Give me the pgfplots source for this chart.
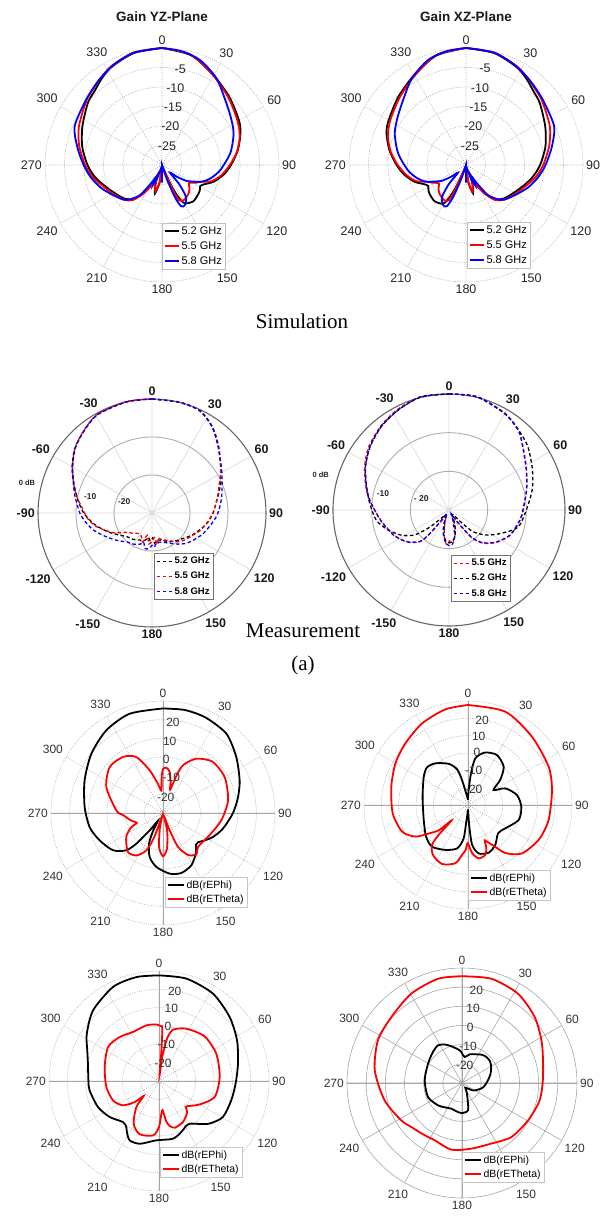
\documentclass[border=0pt]{standalone}
\usepackage{fontspec}
\setmainfont{Liberation Sans}
\newfontfamily\tnr{Liberation Serif}
\usepackage{pgfplots}
\usepackage{pgfplotstable}
\pgfplotsset{compat=1.18}
\usepgfplotslibrary{polar}

% ---------- Simulation YZ (theta clockwise from top, gain dB) ----------
\pgfplotstableread{
t g
0 0
15 -0.9
30 -3.5
45 -5.5
60 -7.2
68 -8.3
79 -10.2
90 -12.3
99 -14
108 -16.1
115 -18.2
119 -18.8
123 -18.4
128 -18.1
139 -17.7
149 -18.5
152 -19.9
155 -23
157 -27
163 -29.5
176 -29.5
180 -26
184 -29
188 -25.3
194 -22.5
199 -25
203 -27.5
207 -24.5
213 -21.5
220 -18.5
229 -17
240 -15.8
251 -14.2
260 -12.5
270 -10.9
283 -9
296 -7.3
310 -5.2
318 -4.3
325 -3
333 -1.7
346 -0.4
360 0
}\pAk
\pgfplotstableread{
t g
0 0
15 -0.8
30 -3.6
45 -5.8
60 -7.6
70 -8.8
80 -10.5
90 -12.6
100 -14.6
108 -16.6
113 -19
118 -20.3
124 -21.7
130 -20.8
137 -20
148 -19.4
154 -19.9
156 -22.5
158 -27
164 -29.5
176 -29.5
180 -27.5
184 -29.5
188 -25.5
194 -23
199 -25
203 -27
207 -24.5
213 -21.3
220 -18.2
228 -16.8
240 -15.4
251 -13.8
260 -12
270 -10.3
283 -8.2
295 -6.5
310 -4.6
318 -3.7
325 -2.7
333 -1.5
346 -0.3
360 0
}\pAr
\pgfplotstableread{
t g
0 0
10 -0.4
20 -1.4
32 -3.7
44 -6.7
55 -8.5
66 -9.9
80 -12.2
95 -15
105 -17
113 -19
118 -21
123 -22.5
128 -25
134 -27.2
138 -23.5
143 -19.8
150 -18.2
155 -18.3
158 -21
161 -26
165 -29.5
176 -29.5
180 -25.5
183 -29.5
195 -29
200 -26.5
204 -24.3
207 -26.5
210 -25
216 -20.5
223 -18
228 -16.7
240 -15
250 -13.2
260 -11.5
270 -9.9
282 -7.8
294 -5.5
311 -4.3
324 -2.8
335 -1.4
346 -0.3
360 0
}\pAb

% ---------- Simulation XZ (u = angle counter-clockwise from top) ----------
\pgfplotstableread{
u g
0 0
15 -0.9
30 -3.4
45 -5.4
60 -7.1
68 -8.0
79 -10.0
90 -12.2
99 -14
108 -16.1
115 -18.3
119 -18.9
123 -18.5
128 -18.1
139 -17.7
149 -18.4
152 -19.8
155 -23
157 -27
163 -29.5
176 -29.5
180 -26
184 -29
188 -25.3
194 -22.5
199 -25
203 -27.5
207 -24.5
213 -21.5
220 -18.5
229 -17
240 -15.8
251 -14.2
260 -12.6
270 -11
283 -9.1
296 -7.4
310 -5.3
318 -4.3
325 -3
333 -1.7
346 -0.4
360 0
}\pBk
\pgfplotstableread{
u g
0 0
15 -0.8
30 -3.6
45 -5.8
60 -7.5
70 -8.7
80 -10.4
90 -12.5
100 -14.6
108 -16.6
113 -19
118 -20.3
124 -21.6
130 -20.8
137 -20
148 -19.4
154 -19.9
156 -22.5
158 -27
164 -29.5
176 -29.5
180 -27.5
184 -29.5
188 -25.5
194 -23
199 -25
203 -27
207 -24.5
213 -21.3
220 -18.2
228 -16.8
240 -15.3
251 -13.7
260 -11.9
270 -10.2
283 -8.1
295 -6.3
310 -4.5
318 -3.6
325 -2.6
333 -1.5
346 -0.3
360 0
}\pBr
\pgfplotstableread{
u g
0 0
10 -0.4
20 -1.4
32 -3.8
44 -6.8
55 -8.6
66 -10.0
80 -12.3
95 -15
105 -17
113 -19
118 -21
123 -22.5
128 -25
134 -27.2
138 -23.5
143 -19.8
150 -18.2
155 -18.3
158 -21
161 -26
165 -29.5
176 -29.5
180 -25.5
183 -29.5
195 -29
200 -26.5
204 -24.3
207 -26.5
210 -25
216 -20.5
223 -18
228 -16.7
240 -15
250 -13.1
260 -11.3
270 -9.6
282 -7.5
294 -5.3
311 -4.1
324 -2.7
335 -1.4
346 -0.3
360 0
}\pBb

% ---------- Measurement 1 ----------
\pgfplotstableread{
t g
0 0
14 0
25 -0.3
35 -2.3
45 -5.2
58 -8.6
71 -11.2
80 -12.8
90 -13.9
100 -15.2
109 -16.6
120 -18.1
129 -19.4
139 -20.3
148 -21.1
160 -22.3
170 -22.8
175 -22
178 -23.5
184 -22.7
188 -23.5
195 -22.5
204 -22.2
215 -21.5
227 -20.9
236 -19.6
245 -17.8
253 -16
260 -14.3
270 -12
280 -10.2
290 -8.2
300 -5.9
310 -3.6
320 -2
331 -0.4
347 0
360 0
}\pCk
\pgfplotstableread{
t g
0 0
14 0.1
25 -0.2
35 -2.4
45 -5.3
58 -8.7
71 -11.5
79 -12.6
90 -14
101 -15.4
110 -16.5
118 -17.7
127 -18.6
136 -19.5
144 -20.8
152 -21.9
160 -22.5
166 -23.2
170 -21.5
174 -23.5
180 -22.5
186 -21.8
192 -24
198 -22
205 -23.3
212 -23.6
217 -23.3
225 -22.5
233 -21.6
243 -18.6
256 -15
265 -13
273 -11.8
282 -9.8
290 -8.1
300 -5.8
310 -3.5
320 -1.9
331 -0.3
347 0.1
360 0
}\pCr
\pgfplotstableread{
t g
0 0
14 0
25 -0.3
35 -2.4
45 -5.4
58 -8.4
66 -9.8
77 -11.2
85 -12.1
93 -13
102 -14.3
112 -15.5
121 -16.7
131 -17.9
140 -19.3
149 -20.7
160 -21.8
171 -22.1
176 -21
180 -21.5
185 -20.6
191 -20.5
196 -22
200 -21.3
210 -20.5
221 -19.9
230 -18.6
239 -17.1
247 -15.5
254 -13.9
262 -12.4
270 -11
282 -9.3
290 -8
300 -5.7
310 -3.5
320 -2
331 -0.4
347 0
360 0
}\pCb

% ---------- Measurement 2 ----------
\pgfplotstableread{
t g
0 0
14 0.1
30 -1.2
41 -2.6
51 -3.8
64 -6
76 -7.8
90 -10
104 -11.6
114 -15.2
124 -18.4
132 -21.6
135 -25
139 -28.5
150 -28
160 -25.5
167 -23
174 -21.8
180 -21.5
186 -22
193 -23.5
200 -26
210 -28.5
222 -27.5
226 -25.5
229 -22.8
234 -19
242 -16.1
252 -13.4
262 -11
275 -9.4
286 -7.8
297 -5.7
309 -3.8
321 -2.2
333 -1
346 0.1
360 0
}\pDk
\pgfplotstableread{
t g
0 0
14 0.2
30 -1.1
41 -2.6
49 -4.7
62 -7.3
75 -9.2
90 -10.8
98 -11.4
112 -12.8
124 -15.1
134 -17.6
140 -20.3
142 -23
145 -26.5
150 -28.5
158 -26
166 -23.5
173 -21.8
179 -22
184 -21
190 -23
198 -26.5
208 -28.5
215 -27
219 -22.5
222 -19.2
233 -16.4
246 -14.3
262 -12.1
277 -9.3
286 -7.6
297 -5.5
308 -3.6
321 -2
333 -0.8
346 0.2
360 0
}\pDr
\pgfplotstableread{
t g
0 0
14 0.2
30 -1.2
41 -2.7
49 -4.8
62.6 -7.5
75.5 -9.3
90 -10.9
98 -11.5
112 -12.9
124 -15.2
134 -17.8
140 -20.5
142 -23
145 -26
150 -29
160 -27
168 -23
175 -21
180 -20.8
186 -21.5
192 -23.5
200 -27
210 -29
216 -26.5
219 -22.2
222.5 -18.9
233 -16.3
246 -14.2
262 -12
277 -9.4
286 -7.8
297.5 -5.7
308.6 -3.8
321 -2.2
333 -1
346 0.2
360 0
}\pDb

% ---------- Bottom plot E ----------
\pgfplotstableread{
t g
0 26
12 26.4
24 26
38.6 24.4
52.6 19.4
67 14.6
78 11.1
90 7.5
104.6 3.2
115.6 -0.3
124 -3.5
130 -5.6
134 -5.5
138 -3.5
141 -2
151.6 1.9
163 3.6
173.7 2.7
187 -0.9
196.9 -5.4
204.5 -12
209 -19
213 -25
217 -19
219 -15
221 -8.2
224.5 -2
233.3 3.4
246.7 7
259 10
274.4 12.1
292.6 15.5
309.6 19.8
325.6 23.7
341.4 26.1
360 26
}\pEk
\pgfplotstableread{
t g
0 -6.3
4 -5.6
9 -7.5
14 -13
17 -17
20 -8
23 -2
31.5 4.1
44 8.2
60 8.2
79 5.5
97 1.5
115 -2.3
134 -3.9
141 -1.6
149 -3.7
156 -10
159 -20
163 -28
167 -20
173.6 -10.8
180 -6.8
186.7 -11.7
192 -22
196 -28
200 -16
204 -8.1
212 -3.2
222 -1.9
237 -6.5
246 -11.4
249 -15
253 -14
258 -12
267 -8.6
273 -5
294.6 3.4
310.8 7.7
324.5 6.9
334.5 3.2
342.6 -6
350 -14
355.8 -18
358 -10
360 -6.3
}\pEr

% ---------- Bottom plot F ----------
\pgfplotstableread{
t g
0 -27
2.5 -21.3
5.4 -11.7
9 -2.7
18 1.8
30 3.3
43 0.2
52 -6.4
59.7 -12.9
66 -6.4
78.5 -1.2
92 0.8
106.5 0.5
122 -4.6
133 -6.2
145.7 -2.1
156.6 0
167.6 -1.4
174 -6.8
176.5 -17.5
180 -27
184 -24
186 -20
187.4 -10.6
194 -4.2
206.7 -1
220.8 1.8
233 0.3
251 -3
280 -3.4
302.6 0.3
312.6 2.1
322 0.5
335 -3.8
343 -8.5
346.5 -15.2
352 -24
360 -27
}\pFk
\pgfplotstableread{
t g
0 27.7
21.8 28
43 24
64.6 21.5
80 19.2
100.5 17.3
116 15.5
132 11.8
142 5.2
147 -1.3
152.6 -6.2
154.7 -7.5
157 -3
161 0.5
168.7 1.4
175 -2
180.5 -8
183 -4
186.8 -1
192.3 4.4
203.8 7.2
215 5.2
222 1
224.5 -6
226.8 -17
229 -8
234 -2
239 5.4
248 11
263.7 13.7
283.4 15.5
300 18.3
314.5 20.7
330.6 24
346.7 26.7
360 27.7
}\pFr

% ---------- Bottom plot G ----------
\pgfplotstableread{
t g
0 27.6
15 27.8
31.7 26
47.8 22
62.5 18
77.6 14.1
92 11.8
105 10.8
119.4 10
130 6.1
137 2
144.3 -1.3
150 -1.2
156.4 0.4
166.4 2.4
182.6 2.4
197 5.8
206.3 6.1
212 3
215.4 0.8
221.3 -0.2
233.9 3.3
246.9 6.2
262.3 8.2
270 8.5
283.7 9.9
293 12.5
303 17
317 22.7
334 27.1
347.7 28
360 27.6
}\pGk
\pgfplotstableread{
t g
0 0.3
2 0
3.6 -1
4.5 -13
5.5 -27
7.5 -17
8.3 -14.9
10.7 -6.5
15.3 -1
27.6 2.2
45.6 4.8
64.5 4.6
86 3.2
106 1.6
120 -4.4
128 -8
134 -9.7
138 -7
149.7 -4.1
161.4 -3.1
167 -5
170 -8
173 -14
176 -12
180 -4.9
186 -0.2
200 0.9
210.7 -2.9
221 -11.2
225.6 -18.3
229 -12.5
236 -6.3
247 -2.8
263.5 -1.1
284.5 0.6
303.7 3.4
318 2.2
332 0.3
347 1.1
357.3 0.9
360 0.3
}\pGr

% ---------- Bottom plot H ----------
\pgfplotstableread{
t g
0 -14.5
6 -16.4
15 -14.5
24 -13.6
35 -12
43 -11.4
52 -11.5
61 -12.6
73 -14.5
84 -16.4
96 -18
106 -19.5
118 -22
124 -23
135 -26
145 -27
152 -25
159 -22.2
167.6 -15.4
181 -14.3
192 -15
202.6 -15.5
215 -14.5
227 -12.9
247.6 -10.8
274 -10.5
299.6 -9.6
317 -7.8
327.5 -6.7
336 -8
344 -10.1
356 -12.9
360 -14.5
}\pHk
\pgfplotstableread{
t g
0 25.7
15.7 26.5
32 25
47.8 21.2
63.8 16.5
85.8 12.4
102.6 11.5
119.5 9.6
137.6 8.2
154.2 5.1
171.9 4.6
189 5.2
205.5 3.1
217 3.6
229 5
238.4 7.2
257.4 11.4
278.3 16
296.9 19.2
313 20.4
330.4 23.6
347 25.8
360 25.7
}\pHr

\pgfplotsset{
  common/.style={scale only axis, clip=false, major tick length=0pt,
    y tick label style={opacity=0}, xtick={0,30,...,330}, xmajorgrids, ymajorgrids},
  clockticks/.style={xticklabels={90,60,30,0,330,300,270,240,210,180,150,120}},
  simplot/.style={common, clockticks, width=234pt, height=234pt,
    ymin=0, ymax=30, ytick={5,10,...,30}, axis line style={draw=none},
    major grid style={black!30, line width=0.6pt, dash pattern=on 1pt off 1.3pt},
    xticklabel style={font=\fontsize{12.5}{14}\selectfont, text=black!85, inner sep=3pt},
    legend style={at={(axis cs:0,0)}, anchor=north west, font=\fontsize{11}{12}\selectfont,
      draw=gray!50, fill=white, inner sep=1.5pt, row sep=1.8pt, cells={anchor=west}},
    legend image code/.code={\draw[##1] (0pt,0pt) -- (14pt,0pt);}},
  measplot/.style={common, ymin=0, ymax=30, ytick={10,20},
    xticklabels={90,60,30,0,-30,-60,-90,-120,-150,180,150,120},
    axis line style={draw=none},
    major grid style={black!32, line width=0.9pt},
    x grid style={black!14, line width=0.7pt},
    extra y ticks={30}, extra y tick labels={},
    extra y tick style={grid=major, major grid style={black!60, line width=1.1pt}},
    xticklabel style={font=\bfseries\fontsize{12.5}{14}\selectfont, text=black!90, inner sep=3pt},
    legend style={at={(axis cs:0,0)}, anchor=north west, font=\bfseries\fontsize{9.5}{10}\selectfont,
      draw=none, fill=white, inner sep=2pt, row sep=3pt, cells={anchor=west}},
    legend image code/.code={\draw[##1] (0pt,0pt) -- (15pt,0pt);}},
  botplot/.style={common, clockticks, ymin=0, ymax=60, ytick={10,20,...,60},
    axis line style={draw=none},
    major grid style={black!30, line width=0.6pt, dash pattern=on 1pt off 1.3pt},
    extra x ticks={0,90,180,270}, extra x tick labels={},
    extra x tick style={grid=major, major grid style={black!35, solid, line width=0.6pt}},
    xticklabel style={font=\fontsize{12}{14}\selectfont, text=black!80, inner sep=3pt},
    legend style={at={(axis cs:0,0)}, anchor=north west, font=\fontsize{10.5}{11.5}\selectfont,
      draw=gray!45, fill=white, inner sep=1.5pt, row sep=0.8pt, cells={anchor=west}},
    legend image code/.code={\draw[##1] (0pt,0pt) -- (16pt,0pt);}},
  sk/.style={draw=black, line width=1.8pt, smooth, tension=0.45},
  sr/.style={draw=red, line width=1.8pt, smooth, tension=0.45},
  sb/.style={draw=blue, line width=1.8pt, smooth, tension=0.45},
  mk/.style={draw=black, line width=1.3pt, dash pattern=on 3.5pt off 2.5pt, smooth, tension=0.45},
  mr/.style={draw=red, line width=1.3pt, dash pattern=on 3.5pt off 2.5pt, smooth, tension=0.45},
  mb/.style={draw=blue, line width=1.3pt, dash pattern=on 3.5pt off 2.5pt, smooth, tension=0.45},
  lk/.style={draw=black, line width=1.5pt, dash pattern=on 3.5pt off 2.5pt},
  lr/.style={draw=red, line width=1.5pt, dash pattern=on 3.5pt off 2.5pt},
  lb/.style={draw=blue, line width=1.5pt, dash pattern=on 3.5pt off 2.5pt},
}
\tikzset{
  rl/.style={font=\fontsize{12.5}{14}\selectfont, text=black!85, inner sep=0pt},
  ml/.style={font=\bfseries\fontsize{8.5}{10}\selectfont, text=black!85, inner sep=0pt},
  bl/.style={font=\fontsize{12}{14}\selectfont, text=black!80, inner sep=0pt},
}

\begin{document}
\begin{tikzpicture}
\path (0pt,0pt) rectangle (615pt,1217pt);

% titles and captions
\node[font=\bfseries\fontsize{13.5}{15}\selectfont, text=black!90] at (162pt,1200pt) {Gain YZ-Plane};
\node[font=\bfseries\fontsize{13.5}{15}\selectfont, text=black!90] at (466pt,1200pt) {Gain XZ-Plane};
\node[font=\tnr\fontsize{21}{24}\selectfont] at (302pt,896pt) {Simulation};
\node[font=\tnr\fontsize{21}{24}\selectfont] at (303pt,586pt) {Measurement};
\node[font=\tnr\fontsize{21}{24}\selectfont] at (303pt,552pt) {(a)};

% ---- Simulation YZ ----
\begin{polaraxis}[simplot, at={(162pt,1052pt)}, anchor=center,
  legend style={yshift=-58pt}]
\addplot[sk] table[x expr=90-\thisrow{t}, y expr=\thisrow{g}+30]{\pAk};
\addplot[sr] table[x expr=90-\thisrow{t}, y expr=\thisrow{g}+30]{\pAr};
\addplot[sb] table[x expr=90-\thisrow{t}, y expr=\thisrow{g}+30]{\pAb};
\legend{5.2 GHz, 5.5 GHz, 5.8 GHz}
\node[rl, xshift=18.3pt, yshift=96pt] at (axis cs:0,0) {-5};
\node[rl, xshift=13.3pt, yshift=76.7pt] at (axis cs:0,0) {-10};
\node[rl, xshift=11pt, yshift=57.7pt] at (axis cs:0,0) {-15};
\node[rl, xshift=8.3pt, yshift=38.3pt] at (axis cs:0,0) {-20};
\node[rl, xshift=5pt, yshift=18.3pt] at (axis cs:0,0) {-25};
\end{polaraxis}

% ---- Simulation XZ ----
\begin{polaraxis}[simplot, at={(466pt,1052pt)}, anchor=center,
  legend style={xshift=1pt, yshift=-57pt}]
\addplot[sk] table[x expr=90+\thisrow{u}, y expr=\thisrow{g}+30]{\pBk};
\addplot[sr] table[x expr=90+\thisrow{u}, y expr=\thisrow{g}+30]{\pBr};
\addplot[sb] table[x expr=90+\thisrow{u}, y expr=\thisrow{g}+30]{\pBb};
\legend{5.2 GHz, 5.5 GHz, 5.8 GHz}
\node[rl, xshift=19pt, yshift=96.7pt] at (axis cs:0,0) {-5};
\node[rl, xshift=14pt, yshift=76.7pt] at (axis cs:0,0) {-10};
\node[rl, xshift=12.3pt, yshift=57.7pt] at (axis cs:0,0) {-15};
\node[rl, xshift=7.3pt, yshift=38.3pt] at (axis cs:0,0) {-20};
\node[rl, xshift=4pt, yshift=18.3pt] at (axis cs:0,0) {-25};
\end{polaraxis}

% ---- Measurement 1 ----
\begin{polaraxis}[measplot, width=228pt, height=228pt, at={(152pt,704pt)}, anchor=center,
  legend style={xshift=2pt, yshift=-40pt, name=legC}]
\addplot[mk, forget plot] table[x expr=90-\thisrow{t}, y expr=\thisrow{g}+30]{\pCk};
\addplot[mr, forget plot] table[x expr=90-\thisrow{t}, y expr=\thisrow{g}+30]{\pCr};
\addplot[mb, forget plot] table[x expr=90-\thisrow{t}, y expr=\thisrow{g}+30]{\pCb};
\addlegendimage{lk}\addlegendentry{5.2 GHz}
\addlegendimage{lr}\addlegendentry{5.5 GHz}
\addlegendimage{lb}\addlegendentry{5.8 GHz}
\node[ml, font=\bfseries\fontsize{7.5}{9}\selectfont, xshift=-125pt, yshift=30pt] at (axis cs:0,0) {0 dB};
\node[ml, xshift=-61.7pt, yshift=16.7pt] at (axis cs:0,0) {-10};
\node[ml, xshift=-27.7pt, yshift=11.7pt] at (axis cs:0,0) {-20};
\end{polaraxis}
\draw[black!55, line width=0.8pt] (legC.south west) rectangle (legC.north east);

% ---- Measurement 2 ----
\begin{polaraxis}[measplot, width=232pt, height=232pt, at={(449pt,707pt)}, anchor=center,
  legend style={xshift=2pt, yshift=-45pt, name=legD}]
\addplot[mr, forget plot] table[x expr=90-\thisrow{t}, y expr=\thisrow{g}+30]{\pDr};
\addplot[mk, forget plot] table[x expr=90-\thisrow{t}, y expr=\thisrow{g}+30]{\pDk};
\addplot[mb, forget plot] table[x expr=90-\thisrow{t}, y expr=\thisrow{g}+30]{\pDb};
\addlegendimage{lr}\addlegendentry{5.5 GHz}
\addlegendimage{lk}\addlegendentry{5.2 GHz}
\addlegendimage{lb}\addlegendentry{5.8 GHz}
\node[ml, font=\bfseries\fontsize{7.5}{9}\selectfont, xshift=-128.3pt, yshift=35pt] at (axis cs:0,0) {0 dB};
\node[ml, xshift=-66pt, yshift=16.7pt] at (axis cs:0,0) {-10};
\node[ml, xshift=-27.7pt, yshift=11.7pt] at (axis cs:0,0) {- 20};
\end{polaraxis}
\draw[black!55, line width=0.8pt] (legD.south west) rectangle (legD.north east);

% ---- Bottom E ----
\begin{polaraxis}[botplot, width=224pt, height=224pt, at={(163pt,404pt)}, anchor=center,
  legend style={xshift=2pt, yshift=-64pt}]
\addplot[sk] table[x expr=90-\thisrow{t}, y expr=\thisrow{g}+30]{\pEk};
\addplot[sr] table[x expr=90-\thisrow{t}, y expr=\thisrow{g}+30]{\pEr};
\legend{dB(rEPhi), dB(rETheta)}
\node[bl, xshift=10pt, yshift=91pt] at (axis cs:0,0) {20};
\node[bl, xshift=6.7pt, yshift=72pt] at (axis cs:0,0) {10};
\node[bl, xshift=3.3pt, yshift=53.3pt] at (axis cs:0,0) {0};
\node[bl, xshift=8.3pt, yshift=35.3pt] at (axis cs:0,0) {-10};
\node[bl, xshift=2.7pt, yshift=16pt] at (axis cs:0,0) {-20};
\end{polaraxis}

% ---- Bottom F ----
\begin{polaraxis}[botplot, width=208pt, height=208pt, at={(468pt,412pt)}, anchor=center,
  legend style={xshift=0pt, yshift=-65pt}]
\addplot[sk] table[x expr=90-\thisrow{t}, y expr=\thisrow{g}+30]{\pFk};
\addplot[sr] table[x expr=90-\thisrow{t}, y expr=\thisrow{g}+30]{\pFr};
\legend{dB(rEPhi), dB(rETheta)}
\node[bl, xshift=14pt, yshift=85pt] at (axis cs:0,0) {20};
\node[bl, xshift=10.7pt, yshift=68.3pt] at (axis cs:0,0) {10};
\node[bl, xshift=9pt, yshift=52.3pt] at (axis cs:0,0) {0};
\node[bl, xshift=5.7pt, yshift=34.3pt] at (axis cs:0,0) {-10};
\node[bl, xshift=5.7pt, yshift=15.7pt] at (axis cs:0,0) {-20};
\end{polaraxis}

% ---- Bottom G ----
\begin{polaraxis}[botplot, width=220pt, height=220pt, at={(159pt,136pt)}, anchor=center,
  legend style={xshift=1pt, yshift=-66pt}]
\addplot[sk] table[x expr=90-\thisrow{t}, y expr=\thisrow{g}+30]{\pGk};
\addplot[sr] table[x expr=90-\thisrow{t}, y expr=\thisrow{g}+30]{\pGr};
\legend{dB(rEPhi), dB(rETheta)}
\node[bl, xshift=15.7pt, yshift=90pt] at (axis cs:0,0) {20};
\node[bl, xshift=12.3pt, yshift=72.3pt] at (axis cs:0,0) {10};
\node[bl, xshift=9pt, yshift=54.7pt] at (axis cs:0,0) {0};
\node[bl, xshift=7.3pt, yshift=36.3pt] at (axis cs:0,0) {-10};
\node[bl, xshift=4pt, yshift=17.3pt] at (axis cs:0,0) {-20};
\end{polaraxis}

% ---- Bottom H ----
\begin{polaraxis}[botplot, width=230pt, height=230pt, at={(462pt,134pt)}, anchor=center,
  major grid style={black!35, solid, line width=0.6pt},
  legend style={xshift=0pt, yshift=-69pt}]
\addplot[sk] table[x expr=90-\thisrow{t}, y expr=\thisrow{g}+30]{\pHk};
\addplot[sr] table[x expr=90-\thisrow{t}, y expr=\thisrow{g}+30]{\pHr};
\legend{dB(rEPhi), dB(rETheta)}
\node[bl, xshift=14.3pt, yshift=92.7pt] at (axis cs:0,0) {20};
\node[bl, xshift=11pt, yshift=74.3pt] at (axis cs:0,0) {10};
\node[bl, xshift=8.3pt, yshift=56pt] at (axis cs:0,0) {0};
\node[bl, xshift=6pt, yshift=37pt] at (axis cs:0,0) {-10};
\node[bl, xshift=2.7pt, yshift=17.7pt] at (axis cs:0,0) {-20};
\end{polaraxis}
\end{tikzpicture}
\end{document}
